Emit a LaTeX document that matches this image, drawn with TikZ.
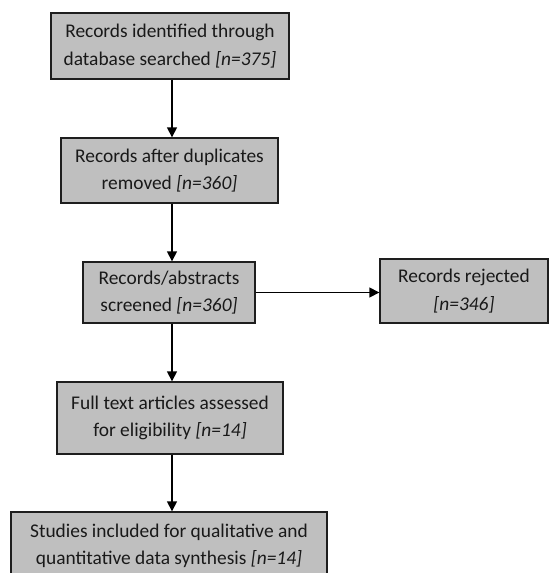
\documentclass[tikz,border=0pt]{standalone}
\usepackage{fontspec}
\setmainfont{Carlito}
\usetikzlibrary{arrows.meta}
\definecolor{boxfill}{RGB}{191,191,191}
\definecolor{boxline}{RGB}{30,30,30}
\definecolor{txt}{RGB}{25,25,25}
\tikzset{
  box/.style={draw=boxline, fill=boxfill, line width=1.4pt, align=center,
    inner sep=0pt, text=txt, font=\fontsize{19.4}{27.5}\selectfont},
  arr/.style={draw=black, line width=1.6pt, -{Triangle[width=10pt,length=10pt]}}
}
\begin{document}
\begin{tikzpicture}[x=1pt,y=-1pt]
\useasboundingbox (0,0) rectangle (550,573);
\clip (0,0) rectangle (550,573);
\fill[white] (0,0) rectangle (550,573);
\node[box, minimum width=238pt, minimum height=66pt] (b1) at (170,46)
  {Records identified through\\database searched \textit{[n=375]}};
\node[box, minimum width=217pt, minimum height=65pt] (b2) at (169.5,170.5)
  {Records after duplicates\\removed \textit{[n=360]}};
\node[box, minimum width=172pt, minimum height=61pt] (b3) at (169,292.5)
  {Records/abstracts\\screened \textit{[n=360]}};
\node[box, minimum width=168pt, minimum height=64pt] (rej) at (464,291)
  {Records rejected\\\textit{[n=346]}};
\node[box, minimum width=226pt, minimum height=72pt] (b4) at (170,418)
  {Full text articles assessed\\for eligibility \textit{[n=14]}};
\node[box, minimum width=316pt, minimum height=68pt] (b5) at (169,546)
  {Studies included for qualitative and\\quantitative data synthesis \textit{[n=14]}};
\coordinate (ax) at (172,0);
\draw[arr] (b1.south -| ax) -- (b2.north -| ax);
\draw[arr] (b2.south -| ax) -- (b3.north -| ax);
\draw[arr] (b3.south -| ax) -- (b4.north -| ax);
\draw[arr] (b4.south -| ax) -- (b5.north -| ax);
\draw[arr] (b3.east) -- (b3.east -| rej.west);
\end{tikzpicture}
\end{document}
